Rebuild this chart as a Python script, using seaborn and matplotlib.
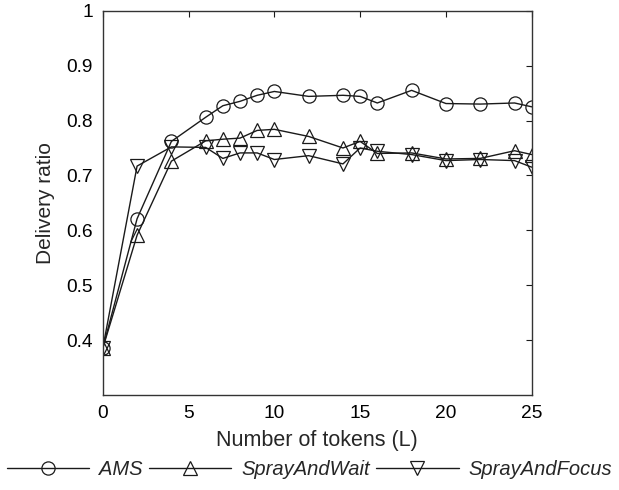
import matplotlib
matplotlib.use("Agg")
import matplotlib.pyplot as plt
import seaborn as sns
import pandas as pd

# Number of tokens (L)
tokens = [0, 2, 4, 6, 7, 8, 9, 10, 12, 14, 15, 16, 18, 20, 22, 24, 25]

# Delivery ratio per protocol
ams = [0.385, 0.621, 0.762, 0.806, 0.827, 0.835, 0.846, 0.853, 0.844,
       0.846, 0.844, 0.832, 0.855, 0.831, 0.830, 0.832, 0.825]
spray_wait = [0.385, 0.591, 0.726, 0.763, 0.766, 0.768, 0.782, 0.784, 0.771,
              0.750, 0.762, 0.740, 0.741, 0.730, 0.731, 0.745, 0.738]
spray_focus = [0.385, 0.717, 0.752, 0.751, 0.731, 0.741, 0.741, 0.729, 0.736,
               0.721, 0.750, 0.744, 0.738, 0.727, 0.729, 0.727, 0.715]

series_names = ["AMS", "SprayAndWait", "SprayAndFocus"]
series_values = [ams, spray_wait, spray_focus]
series_markers = ["o", "^", "v"]

x_ticks = [0, 5, 10, 15, 20, 25]
y_ticks = [0.4, 0.5, 0.6, 0.7, 0.8, 0.9, 1.0]
y_tick_labels = ["0.4", "0.5", "0.6", "0.7", "0.8", "0.9", "1"]

sns.set_theme(style="white")
plt.rcParams["font.family"] = ["Liberation Sans", "DejaVu Sans"]

fig = plt.figure(figsize=(6.19, 4.90), dpi=100)
ax = fig.add_axes([0.166, 0.194, 0.693, 0.784])

ink = "#1a1a1a"
for name, vals, mk in zip(series_names, series_values, series_markers):
    df = pd.DataFrame({"tokens": tokens, "ratio": vals})
    sns.lineplot(data=df, x="tokens", y="ratio", ax=ax, color=ink,
                 linewidth=1.0, marker=mk, markersize=9.5,
                 markerfacecolor="none", markeredgecolor=ink,
                 markeredgewidth=0.9, label=name, legend=False)

ax.set_xlim(0, 25)
ax.set_ylim(0.3, 1.0)
ax.set_xticks(x_ticks)
ax.set_yticks(y_ticks)
ax.set_yticklabels(y_tick_labels)
ax.tick_params(direction="in", length=4, width=0.8, colors=ink,
               labelsize=13.8, top=True, right=True, pad=7,
               labelcolor="black")
for side in ax.spines.values():
    side.set_color("#333333")
    side.set_linewidth(1.0)

ax.set_xlabel("Number of tokens (L)", fontsize=15.5, labelpad=6)
ax.set_ylabel("Delivery ratio", fontsize=15, labelpad=8)

handles, labels = ax.get_legend_handles_labels()
leg = fig.legend(handles, labels, loc="center", bbox_to_anchor=(0.5, 0.042),
                 ncol=3, frameon=False, handlelength=4.1, handletextpad=0.5,
                 columnspacing=0.3, borderaxespad=0,
                 prop={"style": "italic", "size": 14.5})

fig.savefig("out.png", dpi=100)
